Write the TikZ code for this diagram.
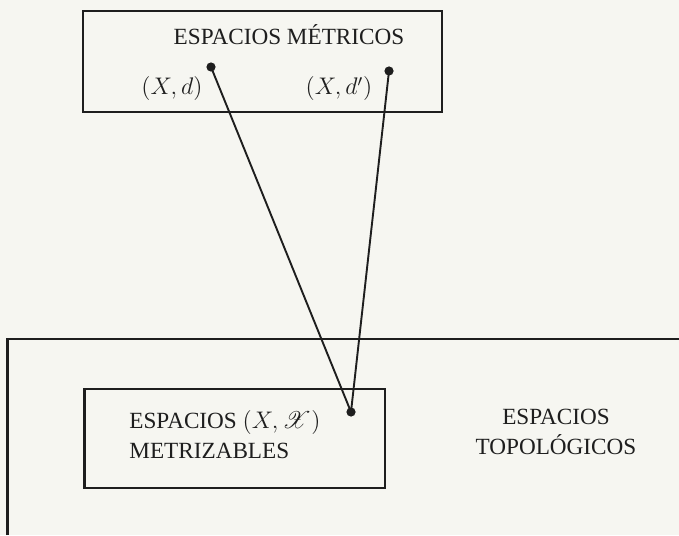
\documentclass[tikz,border=0pt]{standalone}
\usepackage{fontspec}
\setmainfont{Liberation Serif}
\usepackage{mathrsfs}
\definecolor{bgc}{RGB}{246,246,241}
\definecolor{ink}{RGB}{30,30,30}
\begin{document}
\begin{tikzpicture}[x=0.5pt,y=-0.5pt,
  frame/.style={draw=ink,line width=1.2pt},
  dotnode/.style={circle,fill=ink,inner sep=0pt,minimum size=4.6pt},
  conn/.style={draw=ink,line width=0.95pt},
  lbl/.style={inner sep=0pt,font=\fontsize{11.6}{15}\selectfont,text=ink}]
\fill[bgc] (0,0) rectangle (679,535);
\useasboundingbox (0,0) rectangle (679,535);
% frames
\draw[frame] (83,11) rectangle (442,112);
\draw[frame] (7.5,535) -- (7.5,339) -- (679,339);
\draw[frame] (84.5,389) rectangle (385,488);
% labels
\node[lbl] (met) at (289,35) {ESPACIOS MÉTRICOS};
\node[lbl] (xd) at (172,89) {$(X,d)$};
\node[lbl] (xdp) at (339,89) {$(X,d')$};
\node[lbl,anchor=west,align=left] (mz) at (129,435) {ESPACIOS $(X,\mathscr{X})$\\METRIZABLES};
\node[lbl,align=center] (top) at (556,432) {ESPACIOS\\TOPOLÓGICOS};
% dots
\node[dotnode] (d1) at (211,67) {};
\node[dotnode] (d2) at (389,71) {};
\node[dotnode] (d3) at (351,412) {};
\draw[conn] (d1.center) -- (d3.center);
\draw[conn] (d2.center) -- (d3.center);
\end{tikzpicture}
\end{document}
